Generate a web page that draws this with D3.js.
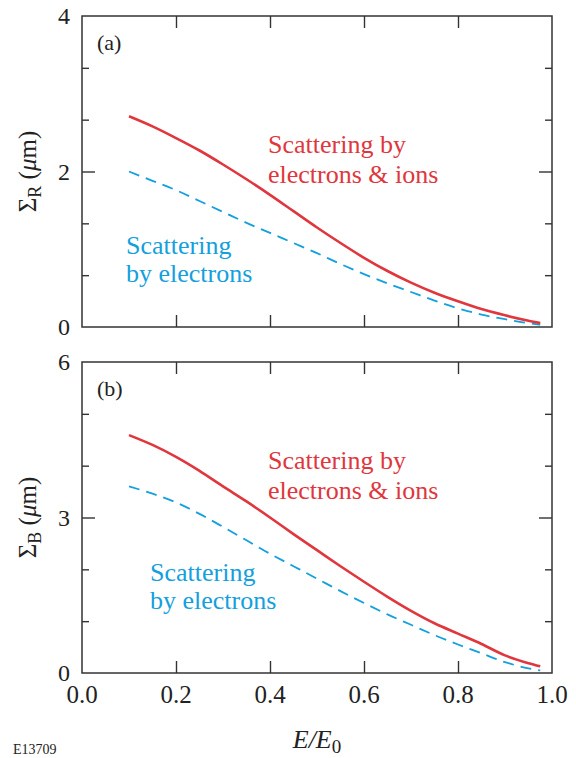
<!DOCTYPE html>
<html>
<head>
<meta charset="utf-8">
<script src="https://cdn.jsdelivr.net/npm/d3@7"></script>
<style>
body { margin:0; background:#fff; }
</style>
</head>
<body>
<svg width="576" height="758"></svg>
<script>
// E/E0 positions where the curves were read
var xVals = [0.1, 0.15, 0.2, 0.25, 0.3, 0.35, 0.4, 0.45, 0.5, 0.55, 0.6, 0.65, 0.7, 0.75, 0.8, 0.85, 0.9, 0.95, 0.975];

// panel (a) sigma_R, um
var redA  = [2.71, 2.58, 2.43, 2.27, 2.09, 1.90, 1.70, 1.49, 1.28, 1.08, 0.89, 0.72, 0.57, 0.44, 0.33, 0.23, 0.15, 0.08, 0.05];
var blueA = [2.00, 1.88, 1.76, 1.62, 1.48, 1.34, 1.21, 1.08, 0.95, 0.81, 0.68, 0.56, 0.45, 0.34, 0.24, 0.16, 0.10, 0.05, 0.03];

// panel (b) sigma_B, um
var redB  = [4.59, 4.40, 4.17, 3.90, 3.60, 3.31, 3.00, 2.68, 2.37, 2.06, 1.76, 1.47, 1.20, 0.96, 0.76, 0.56, 0.34, 0.19, 0.13];
var blueB = [3.60, 3.46, 3.29, 3.07, 2.82, 2.56, 2.30, 2.06, 1.82, 1.58, 1.35, 1.13, 0.93, 0.73, 0.55, 0.38, 0.21, 0.09, 0.05];

var xTicks = [0.0, 0.2, 0.4, 0.6, 0.8, 1.0];
var panels = [
  {tag:"(a)", sub:"R", ymax:4, labels:[0,2,4], minor:[2/3,4/3,8/3,10/3], red:redA, blue:blueA,
   redText:["Scattering by","electrons & ions"], blueText:["Scattering","by electrons"],
   top:16, bottom:327, redPos:[268,153], bluePos:[126,254]},
  {tag:"(b)", sub:"B", ymax:6, labels:[0,3,6], minor:[1,2,4,5], red:redB, blue:blueB,
   redText:["Scattering by","electrons & ions"], blueText:["Scattering","by electrons"],
   top:362, bottom:673, redPos:[268,469], bluePos:[150,581]}
];

var RED = "#e0363d", BLUE = "#13a0dd", INK = "#333";
var FONT = "'Liberation Serif', 'Times New Roman', Times, 'DejaVu Serif', serif";
var left = 82, right = 552;
var svg = d3.select("svg").attr("font-family", FONT);
var x = d3.scaleLinear().domain([0,1]).range([left,right]);

panels.forEach(function(p, i){
  var y = d3.scaleLinear().domain([0,p.ymax]).range([p.bottom,p.top]);
  var g = svg.append("g");

  // inside ticks: bottom/top and left/right
  g.append("g").attr("transform","translate(0,"+p.bottom+")")
    .call(d3.axisTop(x).tickValues([0.2,0.4,0.6,0.8]).tickSize(12).tickFormat(""));
  g.append("g").attr("transform","translate(0,"+p.top+")")
    .call(d3.axisBottom(x).tickValues([0.2,0.4,0.6,0.8]).tickSize(12).tickFormat(""));
  g.append("g").attr("transform","translate("+left+",0)")
    .call(d3.axisRight(y).tickValues([p.labels[1]]).tickSize(13).tickFormat(""));
  g.append("g").attr("transform","translate("+left+",0)")
    .call(d3.axisRight(y).tickValues(p.minor).tickSize(7).tickFormat(""));
  g.append("g").attr("transform","translate("+right+",0)")
    .call(d3.axisLeft(y).tickValues([p.labels[1]]).tickSize(13).tickFormat(""));
  g.append("g").attr("transform","translate("+right+",0)")
    .call(d3.axisLeft(y).tickValues(p.minor).tickSize(7).tickFormat(""));
  g.selectAll(".domain").remove();
  g.selectAll(".tick line").attr("stroke",INK).attr("stroke-width",1.4);

  g.append("rect").attr("x",left).attr("y",p.top)
    .attr("width",right-left).attr("height",p.bottom-p.top)
    .attr("fill","none").attr("stroke",INK).attr("stroke-width",1.5);

  // y tick labels
  g.selectAll(".ylab").data(p.labels).enter().append("text")
    .attr("font-family",FONT)
    .attr("x",70).attr("y",function(d){return y(d)+8;})
    .attr("text-anchor","end").attr("font-size",24).attr("fill","#222")
    .text(function(d){return d;});

  // y axis title
  var t = g.append("text").attr("font-family",FONT)
    .attr("transform","translate(36,"+((p.top+p.bottom)/2)+") rotate(-90)")
    .attr("text-anchor","middle").attr("font-size",25).attr("fill","#222");
  t.append("tspan").text("\u03A3");
  t.append("tspan").attr("font-size",18).attr("dy",5).text(p.sub);
  t.append("tspan").attr("dy",-5).text(" (");
  t.append("tspan").attr("font-style","italic").text("\u03BC");
  t.append("tspan").text("m)");

  g.append("text").attr("font-family",FONT).attr("x",97).attr("y",p.top+34)
    .attr("font-size",22).attr("fill","#222").text(p.tag);

  var line = d3.line().curve(d3.curveMonotoneX)
    .x(function(d,j){return x(xVals[j]);})
    .y(function(d){return y(d);});

  g.append("path").datum(p.blue).attr("d",line)
    .attr("fill","none").attr("stroke",BLUE).attr("stroke-width",1.8)
    .attr("stroke-dasharray","11,7");
  g.append("path").datum(p.red).attr("d",line)
    .attr("fill","none").attr("stroke",RED).attr("stroke-width",2.6);

  p.redText.forEach(function(s,k){
    g.append("text").attr("font-family",FONT).attr("x",p.redPos[0]).attr("y",p.redPos[1]+k*29.5)
      .attr("font-size",26).attr("fill",RED).text(s);
  });
  p.blueText.forEach(function(s,k){
    g.append("text").attr("font-family",FONT).attr("x",p.bluePos[0]).attr("y",p.bluePos[1]+k*28)
      .attr("font-size",26).attr("fill",BLUE).text(s);
  });
});

// x tick labels under the bottom panel
svg.selectAll(".xlab").data(xTicks).enter().append("text")
  .attr("font-family",FONT)
  .attr("x",function(d){return x(d);}).attr("y",703)
  .attr("text-anchor","middle").attr("font-size",25).attr("fill","#222")
  .text(function(d){return d.toFixed(1);});

var xt = svg.append("text").attr("font-family",FONT).attr("x",317).attr("y",748)
  .attr("text-anchor","middle").attr("font-size",26).attr("fill","#222");
xt.append("tspan").attr("font-style","italic").text("E/E");
xt.append("tspan").attr("font-size",19).attr("dy",5).text("0");

svg.append("text").attr("font-family",FONT).attr("x",13).attr("y",754)
  .attr("font-size",14).attr("fill","#222").text("E13709");
</script>
</body>
</html>
